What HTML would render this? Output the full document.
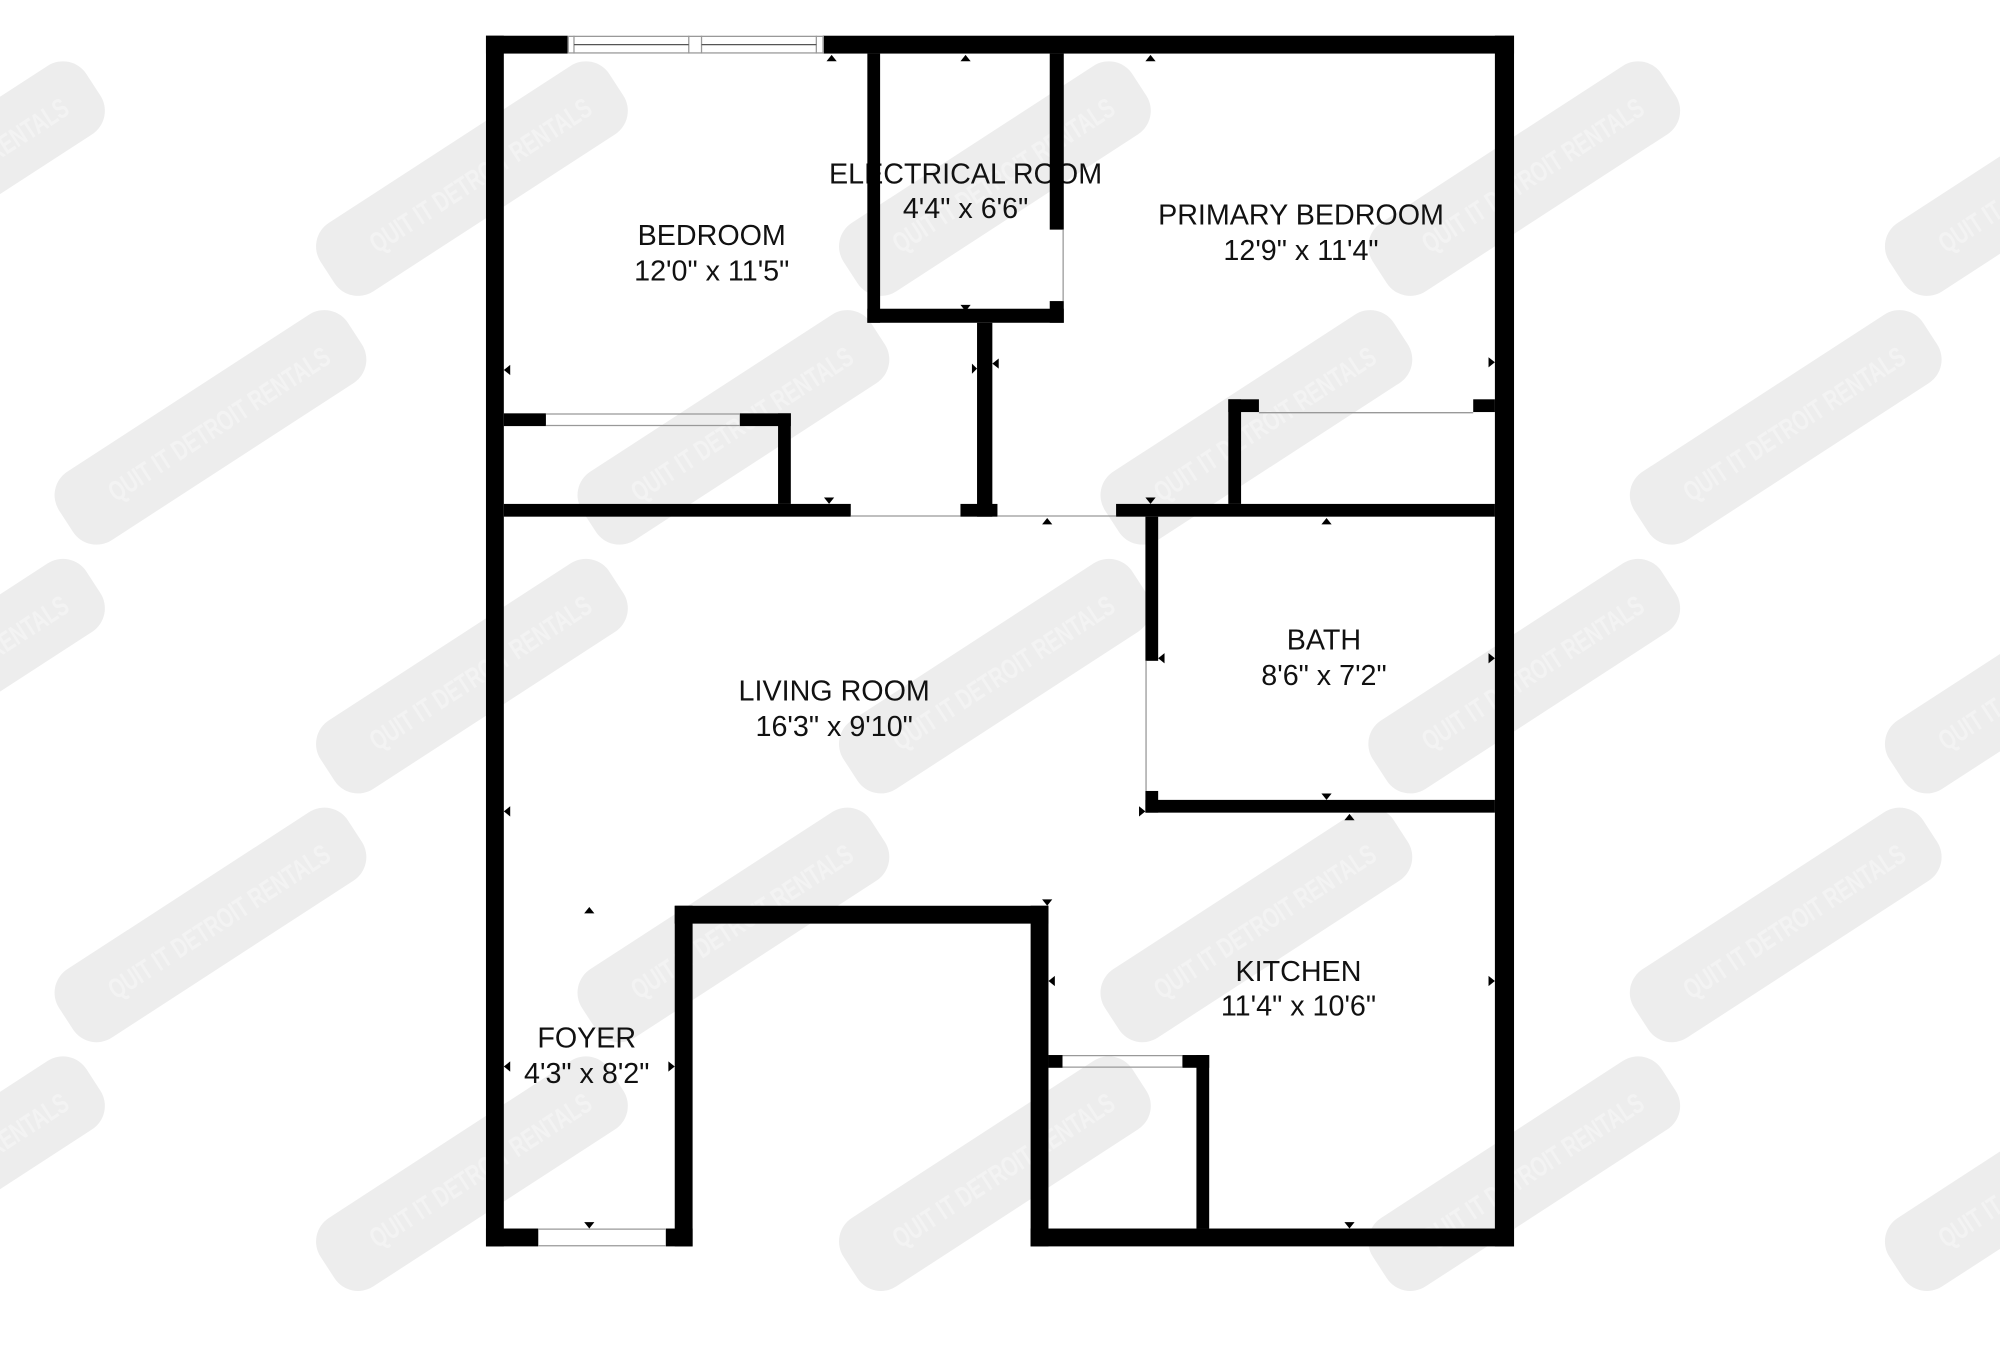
<!DOCTYPE html>
<html><head><meta charset="utf-8"><style>
html,body{margin:0;padding:0;background:#fff;}
svg{display:block;}
text{font-family:"Liberation Sans",sans-serif;}
</style></head><body>
<svg width="2000" height="1351" viewBox="0 0 1568 1059" preserveAspectRatio="none" xmlns="http://www.w3.org/2000/svg">
<defs>
<g id="wm">
<rect x="-135" y="-32" width="270" height="64" rx="22" fill="#ededed"/>
<text x="10" y="9" font-size="22" fill="#f3f3f3" text-anchor="middle" font-weight="bold" transform="scale(0.7,1)">QUIT IT DETROIT RENTALS</text>
</g>
</defs>
<rect width="1568" height="1059" fill="#fff"/>
<g>
<use href="#wm" transform="translate(-40,140) rotate(-33)"/>
<use href="#wm" transform="translate(370,140) rotate(-33)"/>
<use href="#wm" transform="translate(780,140) rotate(-33)"/>
<use href="#wm" transform="translate(1195,140) rotate(-33)"/>
<use href="#wm" transform="translate(1600,140) rotate(-33)"/>
<use href="#wm" transform="translate(165,335) rotate(-33)"/>
<use href="#wm" transform="translate(575,335) rotate(-33)"/>
<use href="#wm" transform="translate(985,335) rotate(-33)"/>
<use href="#wm" transform="translate(1400,335) rotate(-33)"/>
<use href="#wm" transform="translate(-40,530) rotate(-33)"/>
<use href="#wm" transform="translate(370,530) rotate(-33)"/>
<use href="#wm" transform="translate(780,530) rotate(-33)"/>
<use href="#wm" transform="translate(1195,530) rotate(-33)"/>
<use href="#wm" transform="translate(1600,530) rotate(-33)"/>
<use href="#wm" transform="translate(165,725) rotate(-33)"/>
<use href="#wm" transform="translate(575,725) rotate(-33)"/>
<use href="#wm" transform="translate(985,725) rotate(-33)"/>
<use href="#wm" transform="translate(1400,725) rotate(-33)"/>
<use href="#wm" transform="translate(-40,920) rotate(-33)"/>
<use href="#wm" transform="translate(370,920) rotate(-33)"/>
<use href="#wm" transform="translate(780,920) rotate(-33)"/>
<use href="#wm" transform="translate(1195,920) rotate(-33)"/>
<use href="#wm" transform="translate(1600,920) rotate(-33)"/>
</g>
<g font-size="22.5" fill="#111" text-anchor="middle">
<text x="558" y="192">BEDROOM</text><text x="558" y="220">12'0" x 11'5"</text>
<text x="757" y="144">ELECTRICAL ROOM</text><text x="757" y="171">4'4" x 6'6"</text>
<text x="1020" y="176">PRIMARY BEDROOM</text><text x="1020" y="204">12'9" x 11'4"</text>
<text x="1038" y="509">BATH</text><text x="1038" y="537">8'6" x 7'2"</text>
<text x="654" y="549">LIVING ROOM</text><text x="654" y="577">16'3" x 9'10"</text>
<text x="1018" y="769">KITCHEN</text><text x="1018" y="796">11'4" x 10'6"</text>
<text x="460" y="821">FOYER</text><text x="460" y="849">4'3" x 8'2"</text>
</g>
<g fill="#000">
<rect x="381" y="28" width="64" height="14"/>
<rect x="645" y="28" width="542" height="14"/>
<rect x="381" y="28" width="14" height="949"/>
<rect x="1172" y="28" width="15" height="949"/>
<rect x="381" y="963" width="41" height="14"/>
<rect x="522" y="963" width="21" height="14"/>
<rect x="808" y="963" width="379" height="14"/>
<rect x="529" y="710" width="14" height="267"/>
<rect x="529" y="710" width="293" height="14"/>
<rect x="808" y="710" width="14" height="267"/>
<rect x="680" y="42" width="10" height="211"/>
<rect x="680" y="242" width="154" height="11"/>
<rect x="823" y="42" width="11" height="138"/>
<rect x="823" y="236" width="11" height="17"/>
<rect x="766" y="253" width="12" height="152"/>
<rect x="395" y="395" width="272" height="10"/>
<rect x="753" y="395" width="29" height="10"/>
<rect x="875" y="395" width="297" height="10"/>
<rect x="395" y="324" width="33" height="10"/>
<rect x="580" y="324" width="40" height="10"/>
<rect x="610" y="324" width="10" height="71"/>
<rect x="963" y="313" width="24" height="10"/>
<rect x="963" y="313" width="10" height="82"/>
<rect x="1155" y="313" width="17" height="10"/>
<rect x="898" y="405" width="10" height="113"/>
<rect x="898" y="620" width="10" height="17"/>
<rect x="898" y="627" width="274" height="10"/>
<rect x="822" y="827" width="11" height="10"/>
<rect x="927" y="827" width="21" height="10"/>
<rect x="938" y="827" width="10" height="136"/>
</g>
<g stroke="#999" stroke-width="1" fill="none">
<rect x="445.5" y="28.5" width="200" height="13"/>
<line x1="450" y1="28" x2="450" y2="42"/><line x1="540" y1="28" x2="540" y2="42"/><line x1="550" y1="28" x2="550" y2="42"/><line x1="640" y1="28" x2="640" y2="42"/>
<line x1="450" y1="35" x2="540" y2="35" stroke="#555"/><line x1="550" y1="35" x2="640" y2="35" stroke="#555"/>
<line x1="428" y1="324.5" x2="580" y2="324.5"/><line x1="428" y1="333.5" x2="580" y2="333.5"/>
<line x1="667" y1="404.5" x2="753" y2="404.5"/><line x1="782" y1="404.5" x2="875" y2="404.5"/>
<line x1="987" y1="323.5" x2="1155" y2="323.5"/>
<line x1="898.5" y1="518" x2="898.5" y2="620"/>
<line x1="833" y1="827.5" x2="927" y2="827.5"/><line x1="833" y1="836.5" x2="927" y2="836.5"/>
<line x1="422" y1="963.5" x2="522" y2="963.5"/><line x1="422" y1="976.5" x2="522" y2="976.5"/>
<line x1="833.5" y1="180" x2="833.5" y2="236"/>
</g>
<g fill="#000">
<path d="M648,48 l4,-5 l4,5z"/><path d="M753,48 l4,-5 l4,5z"/><path d="M898,48 l4,-5 l4,5z"/>
<path d="M753,239 l4,5 l4,-5z"/><path d="M646,390 l4,5 l4,-5z"/><path d="M898,390 l4,5 l4,-5z"/>
<path d="M817,411 l4,-5 l4,5z"/><path d="M1036,411 l4,-5 l4,5z"/><path d="M1036,622 l4,5 l4,-5z"/>
<path d="M1054,643 l4,-5 l4,5z"/><path d="M458,716 l4,-5 l4,5z"/><path d="M817,705 l4,5 l4,-5z"/>
<path d="M458,958 l4,5 l4,-5z"/><path d="M1054,958 l4,5 l4,-5z"/>
<path d="M400,286 l-5,4 l5,4z"/><path d="M400,632 l-5,4 l5,4z"/><path d="M400,832 l-5,4 l5,4z"/>
<path d="M1167,280 l5,4 l-5,4z"/><path d="M1167,512 l5,4 l-5,4z"/><path d="M1167,765 l5,4 l-5,4z"/>
<path d="M762,285 l4,4 l-4,4z"/><path d="M783,281 l-5,4 l5,4z"/>
<path d="M913,512 l-5,4 l5,4z"/><path d="M893,632 l5,4 l-5,4z"/><path d="M827,765 l-5,4 l5,4z"/>
<path d="M524,832 l5,4 l-5,4z"/>
</g>
</svg>
</body></html>
